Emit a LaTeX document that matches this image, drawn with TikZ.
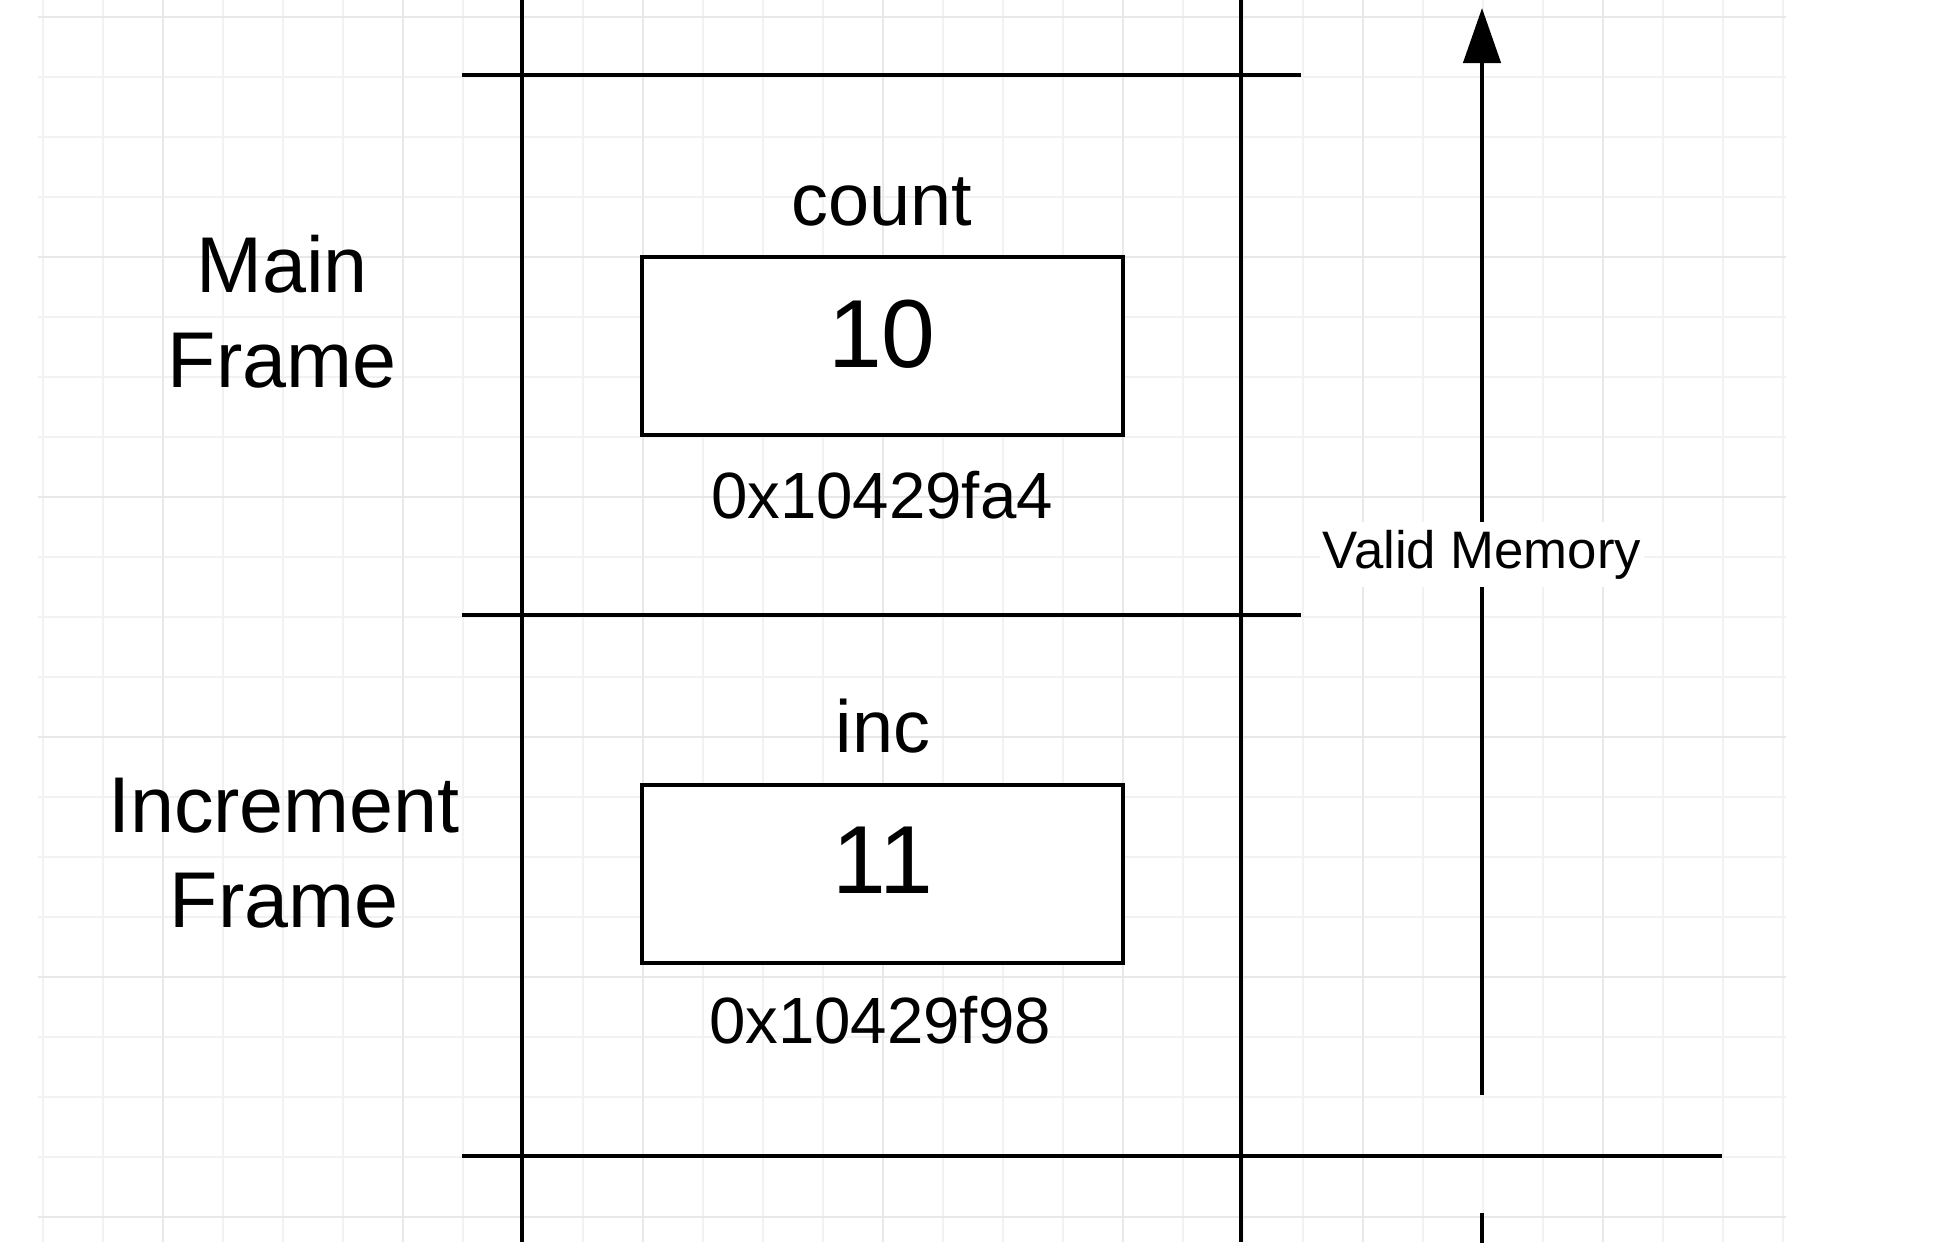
\documentclass[tikz,border=0pt]{standalone}
\usepackage{fontspec}
\setmainfont{Liberation Sans}
\usetikzlibrary{arrows.meta}

\begin{document}
\begin{tikzpicture}[x=0.01cm, y=-0.01cm,
    gridminor/.style={draw=black!5, line width=0.45pt},
    gridmajor/.style={draw=black!9, line width=0.45pt},
    edge/.style={line width=1.3pt},
    cell/.style={draw, fill=white, rectangle, line width=1.3pt, minimum width=4.81cm, minimum height=1.78cm, inner sep=0pt},
    varname/.style={font=\fontsize{21}{25}\selectfont, inner sep=0pt, anchor=base},
    value/.style={font=\fontsize{27.5}{33}\selectfont, inner sep=0pt, anchor=base},
    addr/.style={font=\fontsize{18.6}{22}\selectfont, inner sep=0pt, anchor=base},
    framename/.style={font=\fontsize{22.5}{27}\selectfont, align=center, inner sep=0pt, anchor=base},
    memlabel/.style={font=\fontsize{15}{18}\selectfont, fill=white, inner xsep=0.03cm, inner ysep=0.08cm}]
    \useasboundingbox (0,0) rectangle (1936,1242);

    % Grade de fundo
    \foreach \gx in {43,103,...,1783} \draw[gridminor] (\gx,0) -- (\gx,1242);
    \foreach \gy in {17,77,...,1217} \draw[gridminor] (38,\gy) -- (1786,\gy);
    \foreach \gx in {163,403,...,1603} \draw[gridmajor] (\gx,0) -- (\gx,1242);
    \foreach \gy in {17,257,...,1217} \draw[gridmajor] (38,\gy) -- (1786,\gy);

    % Pilha: paredes e divisões dos frames
    \draw[edge] (522,0) -- (522,1242);
    \draw[edge] (1241,0) -- (1241,1242);
    \draw[edge] (462,75) -- (1301,75);
    \draw[edge] (462,615) -- (1301,615);
    \draw[edge] (462,1156) -- (1722,1156);

    % Nomes dos frames (base = última linha)
    \node[framename] (mainframe) at (282,387) {Main\\Frame};
    \node[framename] (incframe) at (284,927) {Increment\\Frame};

    % Variável do frame main
    \node[varname] (countname) at (882,225) {count};
    \node[cell] (countcell) at (882.5,346) {};
    \node[value] (countval) at (882,367) {10};
    \node[addr] (countaddr) at (882,518) {0x10429fa4};

    % Variável do frame increment
    \node[varname] (incname) at (883,752) {inc};
    \node[cell] (inccell) at (882.5,874) {};
    \node[value] (incval) at (883,893) {11};
    \node[addr] (incaddr) at (880,1043) {0x10429f98};

    % Seta da memória válida
    \coordinate (memtop) at (1482,8);
    \coordinate (memfrom) at (1482,1095);
    \coordinate (memstub) at (1482,1213);
    \coordinate (membottom) at (1482,1250);
    \draw[edge, -{Triangle[length=0.55cm, width=0.37cm]}] (memfrom) -- (memtop)
        node[memlabel, pos=0.497] (memlbl) {Valid Memory};
    \draw[edge] (memstub) -- (membottom);
\end{tikzpicture}
\end{document}
